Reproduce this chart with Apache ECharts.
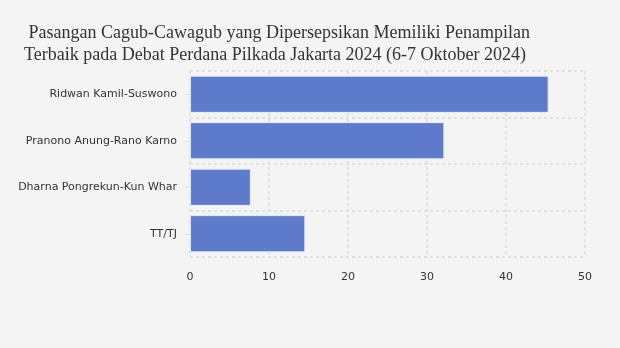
<!DOCTYPE html>
<html><head><meta charset="utf-8">
<script src="https://cdn.jsdelivr.net/npm/echarts@6/dist/echarts.min.js"></script>
<style>html,body{margin:0;padding:0;background:#f4f4f4}#c{width:620px;height:348px}</style>
</head><body><div id="c"></div>
<script>
const categories = ["Ridwan Kamil-Suswono", "Pranono Anung-Rano Karno", "Dharna Pongrekun-Kun Whar", "TT/TJ"];
const values = [45.4, 32.2, 7.7, 14.6];
const xTicks = [0, 10, 20, 30, 40, 50];
const titleText = " Pasangan Cagub-Cawagub yang Dipersepsikan Memiliki Penampilan\nTerbaik pada Debat Perdana Pilkada Jakarta 2024 (6-7 Oktober 2024)";

const chart = echarts.init(document.getElementById('c'), null, {renderer: 'canvas'});
chart.setOption({
  backgroundColor: '#f4f4f4',
  animation: false,
  title: {
    text: titleText,
    left: 19, top: 17,
    textStyle: {fontFamily: 'Liberation Serif', fontSize: 18, fontWeight: 'normal', color: '#333', lineHeight: 22}
  },
  grid: {left: 190, right: 35, top: 71, bottom: 91},
  xAxis: {
    type: 'value', min: xTicks[0], max: xTicks[xTicks.length - 1], interval: 10,
    axisLine: {show: false}, axisTick: {show: false},
    axisLabel: {fontFamily: 'DejaVu Sans', fontSize: 11, color: '#333', margin: 15},
    splitLine: {show: true, lineStyle: {type: [3, 3], color: '#e0e0e0', width: 2}}
  },
  yAxis: {
    type: 'category', data: categories, inverse: true,
    axisLine: {show: false},
    axisTick: {show: true, alignWithLabel: true, length: 5, lineStyle: {color: '#ddd'}},
    axisLabel: {fontFamily: 'DejaVu Sans', fontSize: 11, color: '#333', margin: 13},
    splitLine: {show: true, lineStyle: {type: [3, 3], color: '#e0e0e0', width: 2}}
  },
  series: [{
    type: 'bar', data: values, barCategoryGap: '20%',
    itemStyle: {color: '#5e7bcb', borderColor: '#e6ebf7', borderWidth: 1}
  }]
});
</script></body></html>
